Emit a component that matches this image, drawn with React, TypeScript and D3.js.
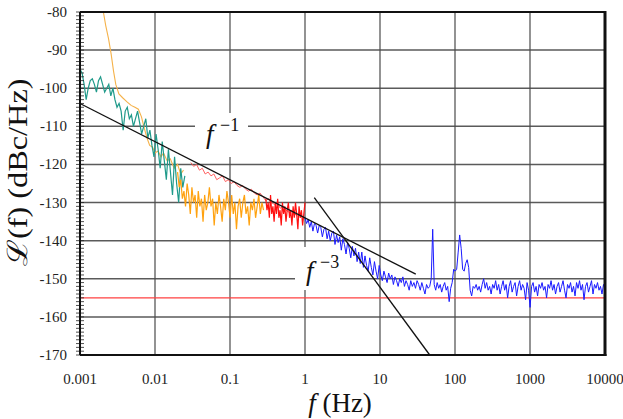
import React from "react";
import * as d3 from "d3";

const W = 623;
const H = 419;

const X_TICKS = [0.001, 0.01, 0.1, 1, 10, 100, 1000, 10000];
const X_LABELS = ["0.001", "0.01", "0.1", "1", "10", "100", "1000", "10000"];
const Y_TICKS = [-80, -90, -100, -110, -120, -130, -140, -150, -160, -170];

// teal trace, log-spaced from 0.001 to 0.025 Hz
const tealRange = [0.001, 0.025];
const tealDb = [
  -95, -96, -99, -103, -100, -98, -97.5, -99, -101, -98, -97, -99, -101, -100, -99, -102,
  -100, -103, -105, -104, -106, -111, -106, -105, -108, -107, -110, -108, -106, -109, -112,
  -110, -108, -113, -111, -115, -118, -112, -116, -121, -114, -119, -124, -116, -122, -128,
  -118, -125, -130, -121, -126, -123,
];

// thin light-orange trace (explicit points)
const orangeThinF = [
  0.00205, 0.0022, 0.0024, 0.0026, 0.0028, 0.003, 0.0033, 0.0037, 0.0042, 0.0048, 0.0054,
  0.006, 0.0066, 0.0072, 0.0078, 0.0085, 0.0093, 0.01, 0.011, 0.012, 0.013, 0.0145, 0.016,
  0.018, 0.02, 0.022, 0.024,
];
const orangeThinDb = [
  -80, -83.5, -87, -91, -95.5, -99, -101.5, -102.5, -103.5, -104.5, -105, -105.5, -107.5,
  -110.5, -113, -115, -115.5, -117, -116.5, -118, -117, -119, -118.5, -121, -120, -122.5,
  -121.5,
];

// thick orange noisy trace, log-spaced 0.02 .. 0.28 Hz
const orangeRange = [0.02, 0.28];
const orangeDb = [
  -122, -126, -124, -129, -127, -131, -125, -128, -133, -126, -130, -128, -134, -127, -131,
  -129, -135, -128, -132, -130, -126, -131, -129, -136, -130, -133, -128, -131, -135, -129,
  -132, -127, -130, -134, -128, -133, -130, -137, -131, -129, -134, -130, -128, -133, -131,
  -136, -130, -132, -129, -134, -131, -128, -133, -130, -132,
];

// thin red trace, log-spaced 0.03 .. 0.95 Hz
const redThinRange = [0.03, 0.95];
const redThinDb = [
  -119.5, -120.5, -120, -121.5, -121, -122.5, -122, -123, -122.5, -124, -123.5, -123, -124.5,
  -124, -125, -124.5, -125.5, -126, -125.5, -126.5, -127, -126.5, -127.5, -128, -127.5,
  -128.5, -129.5, -129, -130, -130.5, -130, -131.5, -131, -132, -132.5, -132, -133, -133.5,
  -133, -134,
];

// thick red noisy trace, log-spaced 0.3 .. 1 Hz
const redRange = [0.3, 1.0];
const redDb = [
  -129, -132, -130, -134, -128, -133, -131, -135, -130, -133, -129, -134, -132, -136, -130,
  -133, -131, -135, -132, -130, -134, -132, -136, -131, -134, -130, -133, -137, -131, -134,
  -132, -136, -133, -130,
];

// blue trace, part 1: log-spaced 1 .. 46 Hz
const blueLowRange = [1, 46];
const blueLowDb = [
  -134, -135.5, -134.5, -136.5, -135, -137.5, -135.5, -136, -138, -136,
  -136.5, -139, -137, -136.5, -139.5, -137.5, -140, -138, -137.5, -141,
  -138.5, -140.5, -139, -142.5, -139.5, -141, -143.5, -140.5, -142, -144.5,
  -141.5, -144, -142, -145.5, -143, -146, -143, -147, -144, -146.5,
  -148, -144.5, -147, -149, -145.5, -148, -150, -146.5, -149, -150.5,
  -148, -149.5, -151, -148.5, -150, -149, -151.5, -149.5, -150.5, -152,
  -150, -151, -149.5, -152, -150.5, -151.5, -153, -150.5, -152, -151,
  -152.5, -150.5, -151.5, -153, -151, -152.5, -154, -151.5, -152.5, -152,
];

// blue trace, part 2: log-spaced 46 .. 10000 Hz
const blueHighRange = [46, 10000];
const blueHighDb = [
  -152, -150, -137, -151.5, -153, -151, -152.5, -151.5, -153.5, -152, -151, -153, -152,
  -156, -152.5, -151, -147.5, -148, -147.5, -143, -138.5, -142, -147.5, -148, -146, -145,
  -147, -153, -154.5, -152, -152.5, -151.5, -153, -152, -153.5, -151.5, -150, -152.5, -151,
  -153, -152, -154, -151.5, -152.5, -150.5, -153, -151.5, -154, -152, -150.5, -153, -151.5,
  -155, -152, -150.5, -153.5, -152, -151, -154.5, -152, -150.5, -153, -151.5, -152.5,
  -155.5, -151, -153, -157.5, -152, -151, -153.5, -152, -154.5, -151.5, -152.5, -151,
  -153, -152, -155, -151.5, -152.5, -150.5, -153, -151.5, -154, -152, -151, -153.5, -152,
  -150.5, -153, -155, -151.5, -152.5, -151, -153.5, -152, -154.5, -151, -152.5, -150.5,
  -153, -151.5, -155.5, -152, -151, -153.5, -152, -150.5, -154, -151.5, -152.5, -151,
  -153, -152, -154, -151.5, -152.5,
];

// noise floor reference (red) and slope guides (black)
const floorDb = -155;
const slope1F = [0.001, 30];
const slope1Db = [-104, -148.8];
const slope3F = [1.33, 46];
const slope3Db = [-128.7, -170];

const x = d3.scaleLog().domain([0.001, 10000]).range([80, 605]);
const y = d3.scaleLinear().domain([-170, -80]).range([355, 12]);

function logSpaced(range: number[], values: number[]): [number, number][] {
  const n = values.length;
  const l0 = Math.log10(range[0]);
  const l1 = Math.log10(range[1]);
  return values.map((v, i) => [Math.pow(10, l0 + ((l1 - l0) * i) / (n - 1)), v]);
}

const line = d3
  .line<[number, number]>()
  .x((d) => x(d[0]))
  .y((d) => y(d[1]));

const SERIF = "'Liberation Serif', 'Times New Roman', Times, serif";

export default function App() {
  const minor: number[] = d3.range(-170, -79, 1);
  const teal = logSpaced(tealRange, tealDb);
  const orangeThin = orangeThinF.map((f, i) => [f, orangeThinDb[i]] as [number, number]);
  const orange = logSpaced(orangeRange, orangeDb);
  const redThin = logSpaced(redThinRange, redThinDb);
  const red = logSpaced(redRange, redDb);
  const blue = [...logSpaced(blueLowRange, blueLowDb), ...logSpaced(blueHighRange, blueHighDb)];
  const s1 = slope1F.map((f, i) => [f, slope1Db[i]] as [number, number]);
  const s3 = slope3F.map((f, i) => [f, slope3Db[i]] as [number, number]);
  const txt = { fontFamily: SERIF };
  return (
    <svg
      width={W}
      height={H}
      style={{ position: "absolute", left: 0, top: 0, background: "#fff", fontFamily: SERIF }}
    >
      <rect x={0} y={0} width={W} height={H} fill="#fff" />
      {/* grid */}
      {Y_TICKS.slice(1, -1).map((t) => (
        <line key={"h" + t} x1={x(0.001)} x2={x(10000)} y1={y(t)} y2={y(t)} stroke="#5a5a5a" strokeWidth={1.5} />
      ))}
      {X_TICKS.slice(1, -1).map((t) => (
        <line key={"v" + t} x1={x(t)} x2={x(t)} y1={y(-80)} y2={y(-170)} stroke="#4a4a4a" strokeWidth={1.2} />
      ))}
      {/* floor */}
      <line x1={x(0.001)} x2={x(10000)} y1={y(floorDb)} y2={y(floorDb)} stroke="#ff4040" strokeWidth={1.3} />
      {/* data */}
      <path d={line(orangeThin) || ""} fill="none" stroke="#f5b24a" strokeWidth={1.1} />
      <path d={line(teal) || ""} fill="none" stroke="#1f9a8a" strokeWidth={1.2} />
      <path d={line(orange) || ""} fill="none" stroke="#ffa210" strokeWidth={1.2} />
      <path d={line(redThin) || ""} fill="none" stroke="#ff5050" strokeWidth={0.9} />
      <path d={line(red) || ""} fill="none" stroke="#ff1010" strokeWidth={1.2} />
      <path d={line(blue) || ""} fill="none" stroke="#1a1aff" strokeWidth={1} />
      {/* slope guides */}
      <path d={line(s1) || ""} fill="none" stroke="#111" strokeWidth={1.3} />
      <path d={line(s3) || ""} fill="none" stroke="#111" strokeWidth={1.3} />
      {/* slope labels */}
      <rect x={195} y={113} width={53} height={44} fill="#fff" />
      <text x={206} y={143} fontSize={27} fontStyle="italic" fill="#111" style={txt}>f</text>
      <text x={220} y={131} fontSize={18} fill="#111" style={txt}>−1</text>
      <rect x={295} y={247} width={45} height={43} fill="#fff" />
      <text x={306} y={280} fontSize={27} fontStyle="italic" fill="#111" style={txt}>f</text>
      <text x={320} y={268} fontSize={18} fill="#111" style={txt}>−3</text>
      {/* y minor ticks */}
      {minor.map((t) => (
        <line key={"m" + t} x1={76} x2={84} y1={y(t)} y2={y(t)} stroke="#222" strokeWidth={0.8} />
      ))}
      {/* frame */}
      <line x1={x(0.001)} x2={x(10000)} y1={y(-80)} y2={y(-80)} stroke="#111" strokeWidth={2} />
      <line x1={x(0.001)} x2={x(10000) + 1.5} y1={y(-170)} y2={y(-170)} stroke="#111" strokeWidth={2} />
      <line x1={x(0.001)} x2={x(0.001)} y1={y(-80)} y2={y(-170)} stroke="#111" strokeWidth={2} />
      <line x1={x(10000)} x2={x(10000)} y1={y(-80) - 1} y2={y(-170) + 1} stroke="#111" strokeWidth={3} />
      {/* tick labels */}
      {Y_TICKS.map((t) => (
        <text key={"yl" + t} x={67} y={y(t) + 5} fontSize={15} textAnchor="end" fill="#222" style={txt}>
          {String(t)}
        </text>
      ))}
      {X_TICKS.map((t, i) => (
        <text key={"xl" + t} x={x(t)} y={384} fontSize={15} textAnchor="middle" fill="#222" style={txt}>
          {X_LABELS[i]}
        </text>
      ))}
      {/* axis titles */}
      <text x={340} y={412} fontSize={27} textAnchor="middle" fill="#111" style={txt}>
        <tspan fontStyle="italic">f</tspan>
        <tspan> (Hz)</tspan>
      </text>
      <text
        transform="translate(27,172) rotate(-90)"
        fontSize={28}
        textAnchor="middle"
        fill="#111"
        textLength={187}
        lengthAdjust="spacingAndGlyphs"
        style={txt}
      >
        ℒ(f) (dBc/Hz)
      </text>
    </svg>
  );
}
